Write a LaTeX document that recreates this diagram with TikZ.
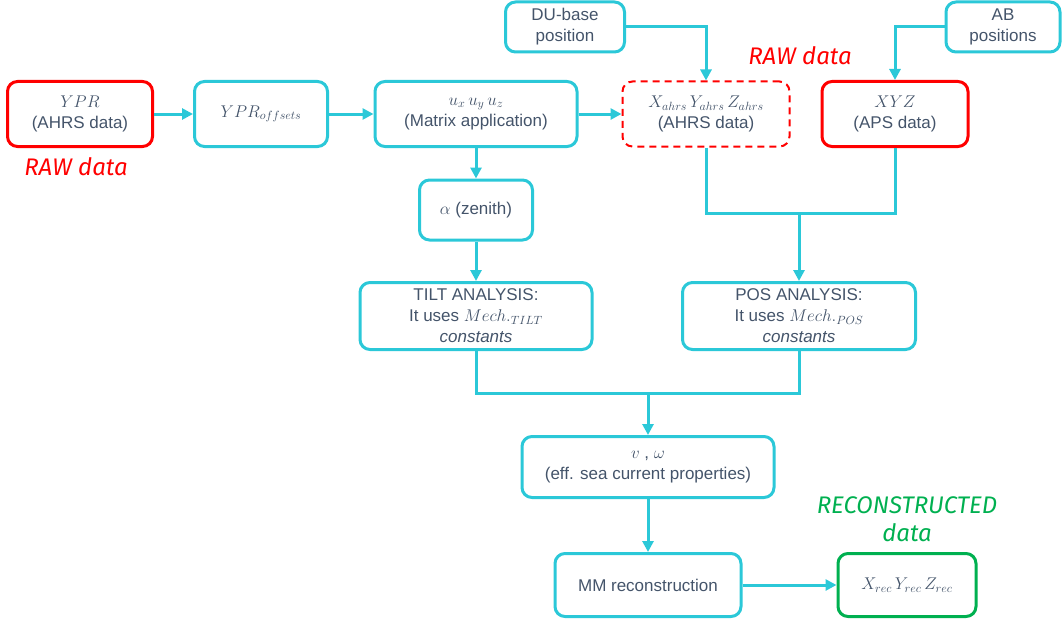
\RequirePackage{fix-cm}
\documentclass[tikz,border=0pt]{standalone}
\usepackage{fontspec}
\setmainfont{Liberation Sans}
\newfontfamily\notefont{Fira Sans}
\usetikzlibrary{arrows.meta}

\definecolor{flowcyan}{RGB}{43,200,216}
\definecolor{rawred}{RGB}{255,0,0}
\definecolor{recgreen}{RGB}{0,176,80}
\definecolor{textgray}{RGB}{68,84,106}

\tikzset{
  box/.style={draw=flowcyan, line width=3pt, rounded corners=10pt, align=center,
    text=textgray, font=\fontsize{17}{21}\selectfont, inner sep=2pt, minimum height=65pt},
  rawbox/.style={box, draw=rawred},
  recbox/.style={box, draw=recgreen},
  flow/.style={draw=flowcyan, line width=3pt, -{Triangle[length=11pt,width=11pt]}},
  joint/.style={draw=flowcyan, line width=3pt},
  note/.style={font=\notefont\itshape\fontsize{24}{28}\selectfont, align=center}
}

\begin{document}
\begin{tikzpicture}[x=1pt, y=-1pt]
    \useasboundingbox (0,0) rectangle (1063,626);

    % Input boxes
    \node[rawbox, minimum width=145pt] (ypr) at (80,114) {$YPR$\\(AHRS data)};
    \node[box, minimum width=133pt] (yproff) at (261,114) {$YPR_{offsets}$};
    \node[box, minimum width=202pt] (uvec) at (476,114) {$u_x\,u_y\,u_z$\\(Matrix application)};
    \node[box, draw=rawred, dashed, dash pattern=on 7pt off 5pt, line width=2pt, minimum width=167pt] (xahrs) at (706,114) {$X_{ahrs}\,Y_{ahrs}\,Z_{ahrs}$\\(AHRS data)};
    \node[rawbox, minimum width=146pt] (xyz) at (895,114) {$XYZ$\\(APS data)};
    \node[box, minimum width=119pt, minimum height=50pt] (dubase) at (565,27) {DU-base\\position};
    \node[box, minimum width=114pt, minimum height=50pt] (abpos) at (1003,27) {AB\\positions};

    % Analysis boxes
    \node[box, minimum width=113pt, minimum height=60pt] (zenith) at (476,210) {$\alpha$ (zenith)};
    \node[box, minimum width=232pt, minimum height=67pt] (tilt) at (476,316) {TILT ANALYSIS:\\It uses $Mech._{TILT}$\\\textit{constants}};
    \node[box, minimum width=233pt, minimum height=67pt] (posan) at (799,316) {POS ANALYSIS:\\It uses $Mech._{POS}$\\\textit{constants}};
    \node[box, minimum width=252pt, minimum height=61pt] (current) at (648,467) {$v$ , $\omega$\\(eff. sea current properties)};
    \node[box, minimum width=186pt, minimum height=63pt] (mmrec) at (648,585) {MM reconstruction};
    \node[recbox, minimum width=138pt, minimum height=63pt] (xrec) at (907,585) {$X_{rec}\,Y_{rec}\,Z_{rec}$};

    % Notes
    \node[note, text=rawred] (rawleft) at (76,167) {RAW data};
    \node[note, text=rawred] (rawright) at (800,56) {RAW data};
    \node[note, text=recgreen] (recnote) at (907,519) {RECONSTRUCTED\\data};

    % Join points
    \coordinate (posjoin) at (799,213);
    \coordinate (curjoin) at (648,393);

    % Draw connectors
    \draw[flow] (ypr) -- (yproff);
    \draw[flow] (yproff) -- (uvec);
    \draw[flow] (uvec) -- (xahrs);
    \draw[flow] (dubase.east) -| (xahrs.north);
    \draw[flow] (abpos.west) -| (xyz.north);
    \draw[flow] (uvec) -- (zenith);
    \draw[flow] (zenith) -- (tilt);
    \draw[joint] (xahrs.south) |- (posjoin) -| (xyz.south);
    \draw[flow] (posjoin) -- (posan);
    \draw[joint] (tilt.south) |- (curjoin) -| (posan.south);
    \draw[flow] (curjoin) -- (current);
    \draw[flow] (current) -- (mmrec);
    \draw[flow] (mmrec) -- (xrec);

\end{tikzpicture}
\end{document}
